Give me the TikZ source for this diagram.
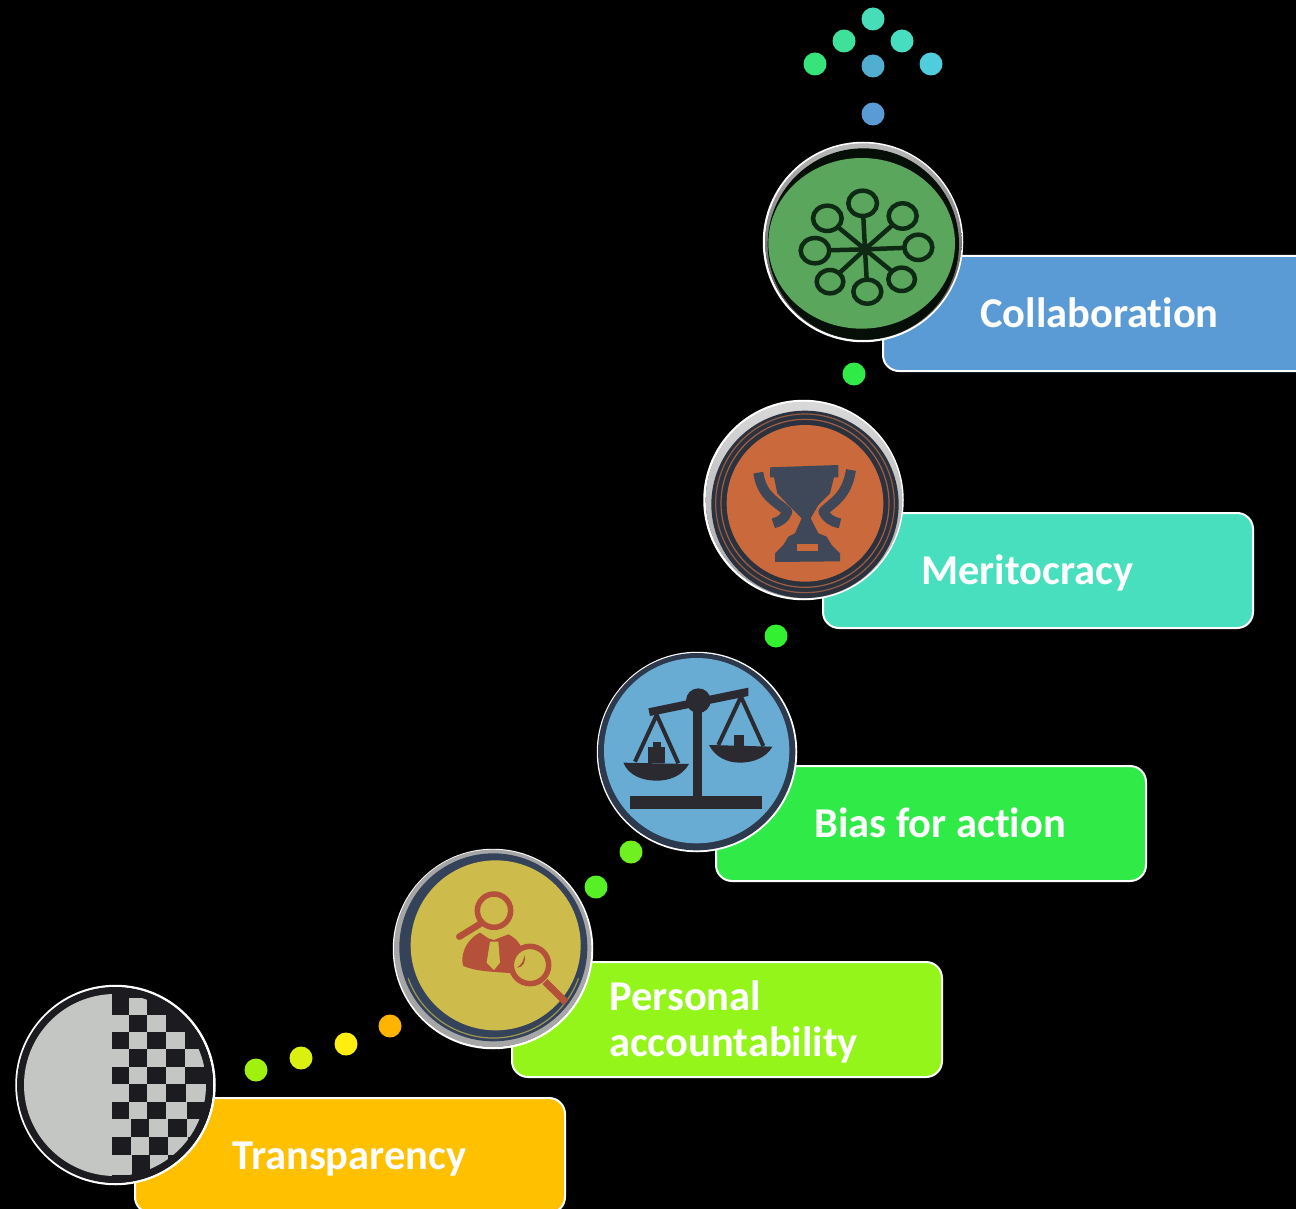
\documentclass[tikz,border=0pt]{standalone}
\usepackage{fontspec}
\setmainfont{Carlito}[Ligatures={NoCommon},Contextuals={NoAlternate}]
\definecolor{tagblue}{HTML}{5B9BD5}
\definecolor{tagteal}{HTML}{48DFBE}
\definecolor{taggreen}{HTML}{30EB47}
\definecolor{taglime}{HTML}{93F519}
\definecolor{tagamber}{HTML}{FFC000}
\definecolor{netgreen}{HTML}{5AA65C}
\definecolor{netdark}{HTML}{0F2A14}
\definecolor{cuporange}{HTML}{C9693C}
\definecolor{cupdark}{HTML}{3E4858}
\definecolor{scaleblue}{HTML}{68ABD3}
\definecolor{scaledark}{HTML}{2A2A30}
\definecolor{lensyellow}{HTML}{CDBB4C}
\definecolor{lensred}{HTML}{B5503A}
\definecolor{lensring}{HTML}{35435A}
\definecolor{checklight}{HTML}{C3C6C2}
\definecolor{checkdark}{HTML}{1C1C20}
\tikzset{
  badge/.style={circle,draw=white,line width=2.5pt,minimum size=198pt,inner sep=0pt,fill=black},
  tagbox/.style={rectangle,rounded corners=16pt,draw=white,line width=2pt,minimum width=430pt,minimum height=115pt,anchor=north west,inner sep=0pt},
  tagtext/.style={anchor=base west,inner sep=0pt,text=white,font=\fontsize{42.5pt}{46pt}\selectfont\bfseries},
  stepdot/.style={circle,minimum size=23pt,inner sep=0pt,draw=none}
}
\begin{document}
\begin{tikzpicture}[x=1pt,y=-1pt]
\useasboundingbox (0,0) rectangle (1296,1209);
\clip (0,0) rectangle (1296,1209);
\fill[black] (0,0) rectangle (1296,1209);

% tag boxes
\node[tagbox,fill=tagblue] (boxcollab) at (882,255) {};
\node[tagbox,fill=tagteal] (boxmerit) at (822,512) {};
\node[tagbox,fill=taggreen] (boxbias) at (715,765) {};
\node[tagbox,fill=taglime] (boxpers) at (511,961) {};
\node[tagbox,fill=tagamber] (boxtrans) at (134,1097) {};

% labels
\node[tagtext] (lblcollab) at (980,327) {Collaboration};
\node[tagtext] (lblmerit) at (921,584) {Meritocracy};
\node[tagtext] (lblbias) at (814,837) {Bias for action};
\node[tagtext] (lblpersa) at (609,1010) {Personal};
\node[tagtext] (lblpersb) at (609,1056) {accountability};
\node[tagtext] (lbltrans) at (232,1169) {Transparency};

% dots
\node[stepdot,fill={rgb,255:red,70;green,221;blue,184}] (d1) at (873,19) {};
\node[stepdot,fill={rgb,255:red,63;green,224;blue,154}] (d2) at (844,41) {};
\node[stepdot,fill={rgb,255:red,70;green,221;blue,192}] (d3) at (902,41) {};
\node[stepdot,fill={rgb,255:red,56;green,228;blue,122}] (d4) at (815,64) {};
\node[stepdot,fill={rgb,255:red,79;green,205;blue,220}] (d5) at (931,64) {};
\node[stepdot,fill={rgb,255:red,82;green,174;blue,208}] (d6) at (873,66) {};
\node[stepdot,fill=tagblue] (d7) at (873,114) {};
\node[stepdot,fill=taggreen] (d8) at (854,374) {};
\node[stepdot,fill={rgb,255:red,51;green,240;blue,48}] (d9) at (776,636) {};
\node[stepdot,fill={rgb,255:red,111;green,240;blue,32}] (d10) at (631,852) {};
\node[stepdot,fill={rgb,255:red,87;green,240;blue,38}] (d11) at (596,887) {};
\node[stepdot,fill={rgb,255:red,255;green,180;blue,0}] (d12) at (390,1026) {};
\node[stepdot,fill={rgb,255:red,255;green,238;blue,16}] (d13) at (346,1044) {};
\node[stepdot,fill={rgb,255:red,217;green,240;blue,16}] (d14) at (301,1058) {};
\node[stepdot,fill={rgb,255:red,160;green,240;blue,16}] (d15) at (256,1070) {};

% ---------- Collaboration badge
\node[badge] (c1) at (863,242) {};
\begin{scope}[shift={(750,130)},x=0.33333pt,y=-0.33333pt]
\shade[top color=gray!55,bottom color=gray!50!black] (340,335) circle[radius=295];
\fill[netdark!35!black] (340,342) circle[radius=287];
\fill[netgreen] (335,340) ellipse[x radius=280,y radius=256];
\begin{scope}[draw=netdark,line width=4.5pt]
\foreach \px/\py in {338/222,458/258,505/352,455/448,352/485,240/455,195/362,232/265}
  \draw (345,358) -- (\px,\py);
\foreach \px/\py/\rx/\ry in {338/220/43/38,458/258/42/38,505/352/42/38,455/448/40/35,352/485/42/36,240/455/40/35,195/362/43/38,232/265/43/38}
  \draw[fill=netgreen] (\px,\py) ellipse[x radius=\rx,y radius=\ry];
\fill[netdark] (345,358) circle[radius=18];
\end{scope}
\end{scope}

% ---------- Meritocracy badge
\node[badge] (c2) at (803.5,500) {};
\begin{scope}[shift={(690,390)},x=0.33333pt,y=-0.33333pt]
\shade[top color=gray!30,bottom color=gray!70] (342,330) circle[radius=295];
\fill[cupdark!70!black] (345,343) circle[radius=281];
\draw[cuporange!60!cupdark,line width=1.2pt] (345,340) circle[radius=268];
\draw[cuporange!70!cupdark,line width=1.2pt] (345,340) circle[radius=252];
\fill[cuporange] (345,340) circle[radius=235];
\begin{scope}[cupdark]
\fill (240,232) -- (445,225) -- (445,262) -- (432,262) -- (420,310) -- (385,345) -- (362,385)
  -- (385,430) -- (410,440) -- (425,465) -- (450,490) -- (450,514) -- (255,516) -- (255,490)
  -- (280,465) -- (295,440) -- (315,430) -- (335,385) -- (295,345) -- (262,310) -- (252,262) -- (240,262) -- cycle;
\draw[line width=10pt,line join=round] (205,248) .. controls (215,320) and (260,335) .. (292,365)
  .. controls (285,385) and (270,395) .. (250,400);
\draw[line width=10pt,line join=round] (483,240) .. controls (470,320) and (430,335) .. (400,365)
  .. controls (410,385) and (425,395) .. (450,400);
\end{scope}
\fill[cuporange] (320,462) rectangle (385,482);
\end{scope}

% ---------- Bias for action badge
\node[badge] (c3) at (697,752) {};
\begin{scope}[shift={(585,640)},x=0.33333pt,y=-0.33333pt]
\fill[lensring!85!black] (335,335) circle[radius=296];
\fill[scaleblue] (335,332) circle[radius=278];
\begin{scope}[scaledark]
\fill (135,467) rectangle (530,508);
\fill (325,190) rectangle (350,470);
\fill (340,182) circle[radius=37];
\fill (190,205) -- (490,143) -- (490,168) -- (195,228) -- cycle;
\draw[line width=4pt] (150,365) -- (215,225) -- (280,370);
\draw[line width=4pt] (400,315) -- (468,170) -- (535,318);
\fill (115,368) -- (312,372) .. controls (290,410) and (250,422) .. (215,422) .. controls (170,422) and (130,405) .. (115,368) -- cycle;
\fill (372,315) -- (562,320) .. controls (545,352) and (505,368) .. (465,368) .. controls (425,368) and (390,350) .. (372,315) -- cycle;
\fill (190,322) rectangle (240,370);
\fill (203,305) rectangle (227,322);
\fill (448,285) rectangle (478,320);
\end{scope}
\end{scope}

% ---------- Personal accountability badge
\node[badge] (c4) at (493,949) {};
\begin{scope}[shift={(380,840)},x=0.33333pt,y=-0.33333pt]
\fill[gray!70] (338,325) circle[radius=296];
\fill[lensring] (340,322) circle[radius=282];
\draw[lensyellow!70!lensring,line width=1.2pt] (340,322) ++(20:272) arc[start angle=20,end angle=160,radius=272];
\fill[lensyellow] (347,316) circle[radius=255];
\begin{scope}[lensred]
\draw[line width=5.5pt] (342,212) circle[radius=50];
\draw[line width=6.5pt,line cap=round] (300,252) -- (238,290);
\fill (300,278) -- (325,295) -- (342,300) -- (385,283) .. controls (410,295) and (425,315) .. (432,345)
  -- (400,400) .. controls (340,395) and (290,395) .. (250,378) .. controls (240,350) and (255,300) .. (300,278) -- cycle;
\fill[lensyellow] (330,305) -- (355,305) -- (360,368) -- (342,390) -- (320,368) -- cycle;
\draw[line width=5.5pt,fill=lensyellow] (450,375) circle[radius=56];
\fill (433,345) .. controls (432,360) and (425,375) .. (410,383) .. controls (430,385) and (440,360) .. (433,345) -- cycle;
\draw[line width=7pt] (495,425) -- (558,487);
\end{scope}
\end{scope}

% ---------- Transparency badge
\node[badge] (c5) at (115.5,1085) {};
\begin{scope}[shift={(0,975)},x=0.33333pt,y=-0.33333pt]
\fill[checkdark] (345,330) circle[radius=294];
\begin{scope}
\clip (345,330) circle[radius=273];
\fill[checklight] (60,40) rectangle (335,640);
\fill[checklight] (388,68) rectangle (442,120);
\foreach \xa/\xb/\ya/\yb in {
  335/388/120/170, 442/498/120/170,
  388/442/170/222, 498/555/170/222,
  335/388/222/275, 442/498/222/275, 555/612/222/275,
  388/442/275/328, 498/555/275/328,
  335/388/328/380, 442/498/328/380, 558/618/328/380,
  388/442/380/432, 498/560/380/432,
  335/392/432/485, 448/505/432/485, 562/620/432/485,
  392/448/485/540, 505/565/485/540,
  335/395/540/600, 450/505/540/600}
  \fill[checklight] (\xa,\ya) rectangle (\xb,\yb);
\end{scope}
\end{scope}
\end{tikzpicture}
\end{document}
